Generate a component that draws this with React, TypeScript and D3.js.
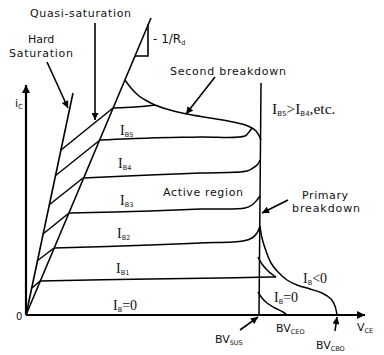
import React from 'react';
import * as d3 from 'd3';

type P = [number, number];

// Axis extents (arbitrary VCE / iC units measured from the origin)
const xMax = 339;
const yMax = 230;

const hardSaturationLine: P[] = [[0, 0], [47, 222]];
const quasiSaturationLine: P[] = [[0, 0], [125, 297]];
const slopeTriangle: P[] = [[122, 290], [122, 259], [109, 259]];

const hatchLines: P[][] = [
  [[35, 165], [87, 207]],
  [[29, 139], [74, 175]],
  [[23, 110], [57, 137]],
  [[17, 81], [43, 102]],
  [[11, 54], [28, 67]],
  [[6, 27], [14, 34]],
];

const ibTopCurve: P[] = [[87, 207], [109, 208], [129, 210]];
const secondBreakdownCurve: P[] = [
  [99, 235], [105, 227], [113, 219], [121, 214], [129, 210], [144, 205], [161, 201],
  [184, 197], [207, 193], [222, 189], [230, 184], [235, 175],
];
const ib5Curve: P[] = [[74, 175], [124, 177], [174, 178], [219, 179], [223, 183], [226, 187]];
const ib4Curve: P[] = [[57, 137], [124, 140], [174, 142], [221, 144], [227, 147], [232, 151], [234, 155]];
const ib3Curve: P[] = [[43, 102], [124, 104], [174, 106], [219, 107], [226, 110], [231, 115], [234, 119]];
const ib2Curve: P[] = [[28, 67], [124, 70], [174, 72], [217, 74], [226, 77], [231, 82], [234, 89]];
const ib1Curve: P[] = [[14, 34], [124, 36], [194, 37], [244, 38], [250, 38]];
const ib1Breakdown: P[] = [[232, 58], [236, 51], [242, 44], [247, 40], [250, 38]];
const ib0Breakdown: P[] = [[232, 23], [236, 17], [241, 12], [249, 7], [257, 3], [261, 0]];
const ibNegBreakdown: P[] = [
  [234, 89], [236, 77], [240, 64], [245, 52], [252, 43], [261, 35], [271, 30],
  [284, 26], [296, 22], [305, 16], [309, 9], [311, 0],
];
const primaryBreakdownLine: P[] = [[235, 232], [234, 115], [233, 0]];

// label pointer arrows: [from, to]
const pointerArrows: P[][] = [
  [[69, 292], [69, 195]],   // Quasi-saturation
  [[21, 253], [42, 207]],   // Hard Saturation
  [[189, 238], [160, 201]], // Second breakdown
  [[262, 115], [236, 102]], // Primary breakdown
  [[214, -15], [232, -2]],  // BVsus
  [[309, -16], [311, -2]],  // BVCBO
];

const x = d3.scaleLinear().domain([0, xMax]).range([26, 365]);
const y = d3.scaleLinear().domain([0, yMax]).range([315, 85]);

const straight = d3.line<P>().x(d => x(d[0])).y(d => y(d[1]));
const smooth = d3.line<P>().x(d => x(d[0])).y(d => y(d[1])).curve(d3.curveCatmullRom.alpha(0.5));

const SANS = 'DejaVu Sans, Verdana, sans-serif';
const SERIF = 'Liberation Serif, Times New Roman, serif';

function IB({ px, py, sub, tail }: { px: number; py: number; sub: string; tail?: string }) {
  return (
    <text x={px} y={py} fill="#111">
      <tspan fontFamily={SERIF} fontSize={14}>I</tspan>
      <tspan fontFamily={SANS} fontSize={6.5} dy={2}>{sub}</tspan>
      {tail ? <tspan fontFamily={SERIF} fontSize={14} dy={-2}>{tail}</tspan> : null}
    </text>
  );
}

export default function App() {
  const stroke = '#000';
  const curves: P[][] = [secondBreakdownCurve, ib5Curve, ib4Curve, ib3Curve, ib2Curve, ib1Curve, ib1Breakdown, ib0Breakdown, ibNegBreakdown, primaryBreakdownLine, ibTopCurve];
  return (
    <svg width={384} height={355} style={{ position: 'absolute', left: 0, top: 0, background: '#fff' }}>
      <defs>
        <marker id="ah" viewBox="0 0 10 10" refX="10" refY="5" markerWidth="9" markerHeight="7" markerUnits="userSpaceOnUse" orient="auto">
          <path d="M0,0L10,5L0,10z" fill="#000" />
        </marker>
        <marker id="axh" viewBox="0 0 10 10" refX="10" refY="5" markerWidth="11" markerHeight="8" markerUnits="userSpaceOnUse" orient="auto">
          <path d="M0,0L10,5L0,10z" fill="#000" />
        </marker>
      </defs>
      {/* axes */}
      <line x1={x(0)} y1={y(0)} x2={x(0)} y2={y(yMax)} stroke={stroke} strokeWidth={2.2} markerEnd="url(#axh)" />
      <line x1={x(0)} y1={y(0)} x2={x(xMax)} y2={y(0)} stroke={stroke} strokeWidth={1.8} markerEnd="url(#axh)" />

      {/* saturation lines */}
      <path d={straight(hardSaturationLine) || ''} fill="none" stroke={stroke} strokeWidth={1.6} />
      <path d={straight(quasiSaturationLine) || ''} fill="none" stroke={stroke} strokeWidth={1.6} />
      <path d={(straight(slopeTriangle) || '')} fill="none" stroke={stroke} strokeWidth={1.6} />
      {hatchLines.map((h, i) => (
        <path key={'h' + i} d={straight(h) || ''} fill="none" stroke={stroke} strokeWidth={1.5} />
      ))}
      {curves.map((c, i) => (
        <path key={'c' + i} d={smooth(c) || ''} fill="none" stroke={stroke} strokeWidth={1.5} />
      ))}
      {pointerArrows.map((a, i) => (
        <line key={'a' + i} x1={x(a[0][0])} y1={y(a[0][1])} x2={x(a[1][0])} y2={y(a[1][1])} stroke={stroke} strokeWidth={1.6} markerEnd="url(#ah)" />
      ))}

      {/* text */}
      <g fontFamily={SANS} fontSize={11} fill="#111">
        <text x={30} y={17} textLength={101}>Quasi-saturation</text>
        <text x={28} y={43}>Hard</text>
        <text x={9} y={57} textLength={64}>Saturation</text>
        <text x={153} y={43} fontSize={12}>- 1/R<tspan fontSize={6.5} dy={2}>d</tspan></text>
        <text x={170} y={75} textLength={116}>Second breakdown</text>
        <text x={163} y={196} textLength={80}>Active region</text>
        <text x={302} y={199} textLength={46}>Primary</text>
        <text x={292} y={212} textLength={68}>breakdown</text>
        <text x={15} y={107} fontSize={11}>i<tspan fontSize={7} dy={2}>C</tspan></text>
        <text x={16} y={320} fontSize={10}>0</text>
        <text x={215} y={343}>BV<tspan fontSize={6.5} dy={2}>SUS</tspan></text>
        <text x={276} y={332}>BV<tspan fontSize={6.5} dy={2}>CEO</tspan></text>
        <text x={316} y={349}>BV<tspan fontSize={6.5} dy={2}>CBO</tspan></text>
        <text x={357} y={331}>V<tspan fontSize={6.5} dy={2}>CE</tspan></text>
      </g>
      <IB px={120} py={135} sub="B5" />
      <IB px={118} py={168} sub="B4" />
      <IB px={120} py={205} sub="B3" />
      <IB px={117} py={238} sub="B2" />
      <IB px={116} py={273} sub="B1" />
      <IB px={113} py={310} sub="B" tail="=0" />
      <IB px={274} py={302} sub="B" tail="=0" />
      <IB px={303} py={283} sub="B" tail="<0" />
      <text x={272} y={114} fill="#111">
        <tspan fontFamily={SERIF} fontSize={15.5}>I</tspan>
        <tspan fontFamily={SANS} fontSize={7} dy={2}>B5</tspan>
        <tspan fontFamily={SERIF} fontSize={15.5} dy={-2}>&gt;I</tspan>
        <tspan fontFamily={SANS} fontSize={7} dy={2}>B4</tspan>
        <tspan fontFamily={SERIF} fontSize={15.5} dy={-2}>,etc.</tspan>
      </text>
    </svg>
  );
}
